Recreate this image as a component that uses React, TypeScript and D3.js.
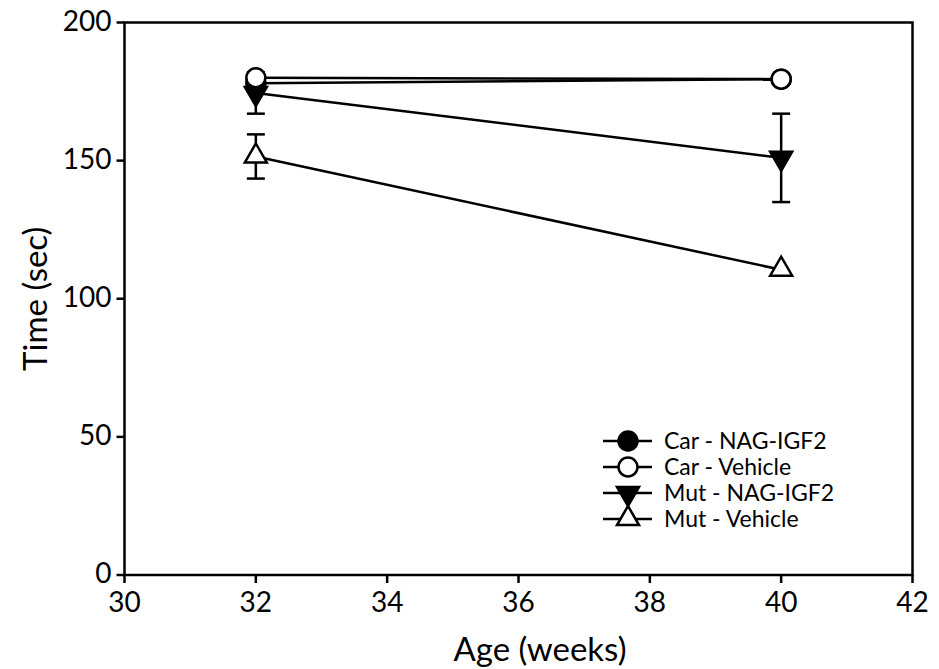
import * as d3 from "d3";

const ages = [32, 40];
const carNag = [178, 179.5];
const carVeh = [180, 179.5];
const mutNag = [174.5, 151];
const mutNagErr = [7.5, 16];
const mutVeh = [151.5, 110.5];
const mutVehErr = [8, 0];
const xTicks = [30, 32, 34, 36, 38, 40, 42];
const yTicks = [0, 50, 100, 150, 200];

type Series = { name: string; values: number[]; err: number[]; shape: string; fill: string };

// drawing order: last one ends up on top
const series: Series[] = [
  { name: "Mut - Vehicle", values: mutVeh, err: mutVehErr, shape: "up", fill: "#fff" },
  { name: "Mut - NAG-IGF2", values: mutNag, err: mutNagErr, shape: "down", fill: "#000" },
  { name: "Car - NAG-IGF2", values: carNag, err: [0, 0], shape: "circle", fill: "#000" },
  { name: "Car - Vehicle", values: carVeh, err: [0, 0], shape: "circle", fill: "#fff" },
];
const legendOrder = ["Car - NAG-IGF2", "Car - Vehicle", "Mut - NAG-IGF2", "Mut - Vehicle"];

const W = 939;
const H = 669;
const margin = { left: 124.5, right: 26.5, top: 22.5, bottom: 94 };
const font = "Lato, 'Open Sans', sans-serif";

const x = d3.scaleLinear().domain([30, 42]).range([margin.left, W - margin.right]);
const y = d3.scaleLinear().domain([0, 200]).range([H - margin.bottom, margin.top]);

const Marker = ({ shape, fill, cx, cy }: { shape: string; fill: string; cx: number; cy: number }) => {
  const s = 11;
  if (shape === "circle")
    return <circle cx={cx} cy={cy} r={9.5} fill={fill} stroke="#000" strokeWidth={2.5} />;
  const pts =
    shape === "up"
      ? [[cx - s, cy + 6], [cx + s, cy + 6], [cx, cy - 13]]
      : [[cx - s, cy - 6], [cx + s, cy - 6], [cx, cy + 13]];
  return <polygon points={pts.map((p) => p.join(",")).join(" ")} fill={fill} stroke="#000" strokeWidth={2.5} />;
};

export default function App() {
  const line = d3
    .line<number>()
    .x((_, i) => x(ages[i]))
    .y((d) => y(d));

  return (
    <svg width={W} height={H} style={{ position: "absolute", left: 0, top: 0, background: "#fff" }} fontFamily={font}>
      {/* frame */}
      <rect x={margin.left} y={margin.top} width={x(42) - x(30)} height={y(0) - y(200)} fill="none" stroke="#000" strokeWidth={2.5} />
      {/* x axis */}
      {xTicks.map((t) => (
        <g key={t}>
          <line x1={x(t)} x2={x(t)} y1={y(0)} y2={y(0) + 8} stroke="#000" strokeWidth={2.5} />
          <text x={x(t)} y={y(0) + 37} textAnchor="middle" fontSize={28}>{t}</text>
        </g>
      ))}
      {/* y axis */}
      {yTicks.map((t) => (
        <g key={t}>
          <line x1={x(30) - 8} x2={x(30)} y1={y(t)} y2={y(t)} stroke="#000" strokeWidth={2.5} />
          <text x={x(30) - 13} y={y(t) + 8} textAnchor="end" fontSize={28}>{t}</text>
        </g>
      ))}
      <text x={540} y={661} textAnchor="middle" fontSize={33}>Age (weeks)</text>
      <text transform={`translate(47,${(y(0) + y(200)) / 2}) rotate(-90)`} textAnchor="middle" fontSize={33}>Time (sec)</text>

      {/* series */}
      {series.map((s) => (
        <g key={s.name}>
          <path d={line(s.values) ?? ""} fill="none" stroke="#000" strokeWidth={2.5} />
          {s.values.map((v, i) =>
            s.err[i] > 0 ? (
              <g key={"e" + i} stroke="#000" strokeWidth={2.5}>
                <line x1={x(ages[i])} x2={x(ages[i])} y1={y(v - s.err[i])} y2={y(v + s.err[i])} />
                <line x1={x(ages[i]) - 9} x2={x(ages[i]) + 9} y1={y(v - s.err[i])} y2={y(v - s.err[i])} />
                <line x1={x(ages[i]) - 9} x2={x(ages[i]) + 9} y1={y(v + s.err[i])} y2={y(v + s.err[i])} />
              </g>
            ) : null
          )}
          {s.values.map((v, i) => (
            <Marker key={i} shape={s.shape} fill={s.fill} cx={x(ages[i])} cy={y(v)} />
          ))}
        </g>
      ))}

      {/* legend */}
      {legendOrder.map((name, i) => {
        const s = series.find((d) => d.name === name)!;
        const ly = 441 + i * 26;
        return (
          <g key={name}>
            <line x1={603} x2={652} y1={ly} y2={ly} stroke="#000" strokeWidth={2.5} />
            <Marker shape={s.shape} fill={s.fill} cx={628} cy={ly} />
            <text x={664} y={ly + 8} fontSize={23}>{name}</text>
          </g>
        );
      })}
    </svg>
  );
}
